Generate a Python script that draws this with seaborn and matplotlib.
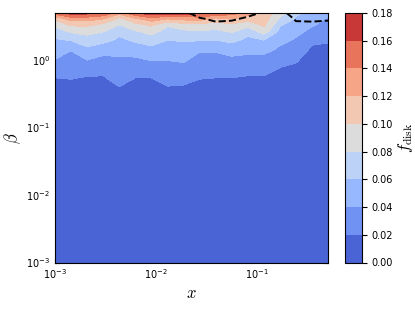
import numpy as np
import matplotlib
matplotlib.use("Agg")
import matplotlib.pyplot as plt
import seaborn as sns

# grid: x columns and beta rows
x_vals = [0.001, 0.001441, 0.002077, 0.002995, 0.004316, 0.006223, 0.00897, 0.01293, 0.01864,
          0.02687, 0.03873, 0.05583, 0.08048, 0.116, 0.1672, 0.241, 0.3474, 0.5]
beta_vals = [0.001, 0.26, 0.39, 0.6, 0.95, 1.4, 2.0, 2.65, 3.35, 4.1, 5.0]

# f_disk along each beta row (one value per x column)
f_b0001 = [0.003] * 18
f_b026 = [.007, .009, .006, .006, .013, .007, .007, .013, .011, .008, .007, .007, .006, .006, .004, .003, .003, .003]
f_b039 = [.014, .015, .013, .013, .0195, .014, .014, .019, .018, .015, .014, .014, .013, .013, .008, .006, .003, .003]
f_b060 = [.022, .023, .021, .0205, .028, .022, .022, .029, .029, .023, .022, .022, .0205, .0205, .015, .013, .004, .004]
f_b095 = [.038, .032, .038, .032, .036, .035, .039, .039, .041, .032, .032, .034, .033, .032, .025, .021, .010, .009]
f_b140 = [.049, .0405, .055, .048, .046, .049, .054, .050, .052, .042, .042, .048, .045, .045, .036, .030, .016, .016]
f_b200 = [.058, .062, .072, .067, .056, .064, .070, .0605, .062, .062, .0605, .066, .055, .0605, .046, .038, .025, .022]
f_b265 = [.071, .083, .087, .0805, .067, .078, .087, .071, .076, .078, .076, .082, .068, .090, .054, .045, .035, .028]
f_b335 = [.086, .104, .104, .096, .0805, .095, .104, .084, .094, .095, .091, .096, .088, .104, .062, .052, .042, .033]
f_b410 = [.105, .130, .130, .1205, .095, .116, .133, .1205, .127, .130, .113, .1205, .110, .108, .078, .057, .047, .038]
f_b500 = [.153, .170, .167, .1605, .127, .1605, .172, .170, .170, .165, .1605, .150, .130, .112, .088, .065, .052, .045]

# second quantity near the top, drawn as the dashed contour
h_beta = [2.65, 3.35, 4.1, 5.0]
h_b265 = [0.0] * 18
h_b335 = [0, 0, 0, 0, 0, 0, 0, 0, 0, 0, .3, .2, 0, 0, 0, .36, .3, .2]
h_b410 = [0, 0, 0, 0, 0, 0, 0, 0, 0, .41, .7, .65, .3, 0, 0, .6, .7, .65]
h_b500 = [0, 0, 0, 0, 0, 0, 0, 0, .3, .94, 1, 1, .9, .32, .3, .83, 1, 1]
h_level = 0.5

levels = np.arange(0, 0.181, 0.02)

f_grid = np.array([f_b0001, f_b026, f_b039, f_b060, f_b095, f_b140,
                   f_b200, f_b265, f_b335, f_b410, f_b500])
h_grid = np.array([h_b265, h_b335, h_b410, h_b500])

sns.set_style("ticks")
plt.rcParams["font.family"] = ["DejaVu Sans"]
plt.rcParams["mathtext.fontset"] = "cm"
for key in ["text.color", "axes.labelcolor", "xtick.color", "ytick.color", "axes.edgecolor"]:
    plt.rcParams[key] = "black"

fig = plt.figure(figsize=(4.15, 3.1), dpi=100)
ax = fig.add_axes([55 / 415, 47.5 / 310, 273 / 415, 249.5 / 310])
cax = fig.add_axes([345 / 415, 47.5 / 310, 17 / 415, 249.5 / 310])

cmap = sns.color_palette("coolwarm", as_cmap=True)
cs = ax.contourf(x_vals, beta_vals, f_grid, levels=levels, cmap=cmap)
ax.contour(x_vals, h_beta, h_grid, levels=[h_level], colors="k",
           linestyles="--", linewidths=1.4)

ax.set_xscale("log")
ax.set_yscale("log")
ax.set_xlim(1e-3, 0.5)
ax.set_ylim(1e-3, 5.0)
ax.set_xlabel(r"$x$", fontsize=12, labelpad=2)
ax.set_ylabel(r"$\beta$", fontsize=12, labelpad=2)
ax.tick_params(which="both", direction="in", top=True, right=True,
               labelsize=7)
for s in ax.spines.values():
    s.set_linewidth(0.8)

cb = fig.colorbar(cs, cax=cax, ticks=levels, format="%.2f")
cb.set_label(r"$f_{\rm disk}$", fontsize=12, labelpad=2)
cb.ax.tick_params(labelsize=7)

fig.savefig("out.png", dpi=100)
